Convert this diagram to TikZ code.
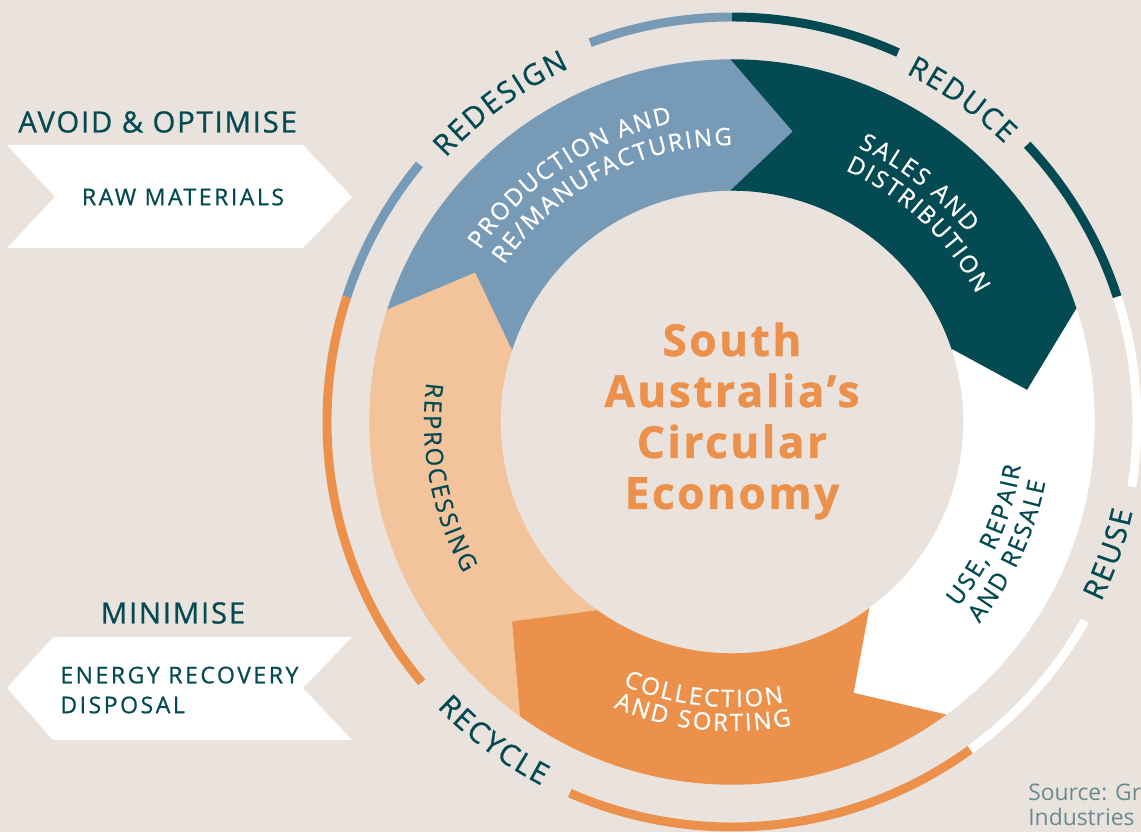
\documentclass[tikz,border=0pt]{standalone}
\usepackage{fontspec}
\setmainfont{Open Sans}
\newfontfamily\labelfamily[LetterSpace=6, FakeBold=0.8]{Open Sans}
\newfontfamily\arcfamily[FakeBold=0.8]{Open Sans}
\newfontfamily\boxfamily[LetterSpace=11, FakeBold=0.8]{Open Sans}
\newfontfamily\titlefamily[LetterSpace=6, BoldFeatures={FakeBold=1.2}]{Open Sans}
\usetikzlibrary{decorations.text}
\definecolor{bgbeige}{HTML}{EAE3DD}
\definecolor{ringblue}{HTML}{779AB7}
\definecolor{deepteal}{HTML}{044A52}
\definecolor{ringorange}{HTML}{EB914C}
\definecolor{ringpeach}{HTML}{F3C49C}
\definecolor{sourcegrey}{HTML}{6A8A90}
\newcommand\headfont{\fontsize{16.7}{20}\labelfamily}
\newcommand\arcfont{\fontsize{16.7}{20}\arcfamily}
\newcommand\ringfont{\fontsize{13.6}{16}\arcfamily}
\newcommand\boxfont{\fontsize{13.1}{17}\boxfamily}
\newcommand\rin{232}
\newcommand\rout{362}
\newcommand\rmid{297}
\newcommand\ringseg[3]{%
  \filldraw[#1, line width=0.8pt] (#2:\rout) arc[start angle=#2, end angle=#3, radius=\rout]
    -- ({#3-12}:\rmid) -- (#3:\rin) arc[start angle=#3, end angle=#2, radius=\rin]
    -- ({#2-12}:\rmid) -- cycle;}
\newcommand\arclabel[7]{%
  \path[decorate, decoration={text effects along path, text={#3}, text align=center,
    text effects/.cd, text along path, characters={text=#1, font=#2, inner xsep=0pt},
    character widths={font=#2, inner xsep=#7}}] (#4:#6) arc[start angle=#4, end angle=#5, radius=#6];}
\tikzset{
    heading/.style = {font=\headfont, text=deepteal, inner sep=0pt},
    boxlabel/.style = {font=\boxfont, text=deepteal, align=left, inner sep=0pt},
    outerarc/.style = {line width=5.1pt},
    title/.style = {font=\fontsize{25}{29}\titlefamily\bfseries, text=ringorange, align=center}
}

\begin{document}
\begin{tikzpicture}[x=0.02cm, y=0.02cm]
    \fill[bgbeige] (-732,-410) rectangle (409,422);
    \useasboundingbox (-732,-410) rectangle (409,422);

    \ringseg{ringblue}{162}{90}
    \ringseg{deepteal}{90}{18}
    \ringseg{white}{18}{-54}
    \ringseg{ringorange}{-54}{-126}
    \ringseg{ringpeach}{-126}{-198}

    \draw[outerarc, ringblue] (162:405) arc[start angle=162, end angle=140.5, radius=405];
    \draw[outerarc, ringblue] (110.5:405) arc[start angle=110.5, end angle=90, radius=405];
    \draw[outerarc, deepteal] (90:405) arc[start angle=90, end angle=65.8, radius=405];
    \draw[outerarc, deepteal] (43.2:405) arc[start angle=43.2, end angle=18, radius=405];
    \draw[outerarc, white] (18:405) arc[start angle=18, end angle=-9.2, radius=405];
    \draw[outerarc, white] (-29.4:405) arc[start angle=-29.4, end angle=-54, radius=405];
    \draw[outerarc, ringorange] (-54:405) arc[start angle=-54, end angle=-113.6, radius=405];
    \draw[outerarc, ringorange] (-140:405) arc[start angle=-140, end angle=-198, radius=405];

    \arclabel{deepteal}{\arcfont}{REDESIGN}{166}{86}{389.5}{0.55pt}
    \arclabel{deepteal}{\arcfont}{REDUCE}{94.5}{14.5}{389.5}{0.55pt}
    \arclabel{deepteal}{\arcfont}{REUSE}{-59.3}{20.7}{410.5}{0.55pt}
    \arclabel{deepteal}{\arcfont}{RECYCLE}{-166.8}{-86.8}{410.5}{0.55pt}

    \arclabel{white}{\ringfont}{PRODUCTION AND}{163.5}{83.5}{305}{0.55pt}
    \arclabel{white}{\ringfont}{RE/MANUFACTURING}{167.7}{67.7}{277}{0.55pt}
    \arclabel{white}{\ringfont}{SALES AND}{92}{12}{302}{0.58pt}
    \arclabel{white}{\ringfont}{DISTRIBUTION}{86.7}{6.7}{276}{0.58pt}
    \arclabel{deepteal}{\ringfont}{USE, REPAIR}{-64}{16}{292}{0.6pt}
    \arclabel{deepteal}{\ringfont}{AND RESALE}{-65}{15}{319}{0.6pt}
    \arclabel{white}{\ringfont}{COLLECTION}{-136}{-56}{285}{0.65pt}
    \arclabel{white}{\ringfont}{AND SORTING}{-135.7}{-55.7}{309}{0.65pt}
    \arclabel{deepteal}{\ringfont}{REPROCESSING}{151}{231}{308}{0.65pt}

    \node[title] (economy) at (0,1) {South\\Australia’s\\Circular\\Economy};

    \fill[white] (-725,277) -- (-429,277) -- (-380,225) -- (-429,174) -- (-725,174) -- (-677,225) -- cycle;
    \node[heading, anchor=west] (avoid) at (-714,300) {AVOID \& OPTIMISE};
    \node[boxlabel] (raw) at (-549,225) {RAW MATERIALS};

    \fill[white] (-679,-215) -- (-380,-215) -- (-429,-266) -- (-380,-318) -- (-679,-318) -- (-725,-266) -- cycle;
    \node[heading] (minimise) at (-559,-191) {MINIMISE};
    \node[boxlabel, anchor=west] (energy) at (-672,-268) {ENERGY RECOVERY\\DISPOSAL};

    \node[font=\fontsize{13}{14.2}\selectfont, text=sourcegrey, align=left, anchor=west, inner sep=0pt]
        (source) at (296,-383) {Source: Gr\\Industries};
\end{tikzpicture}
\end{document}
